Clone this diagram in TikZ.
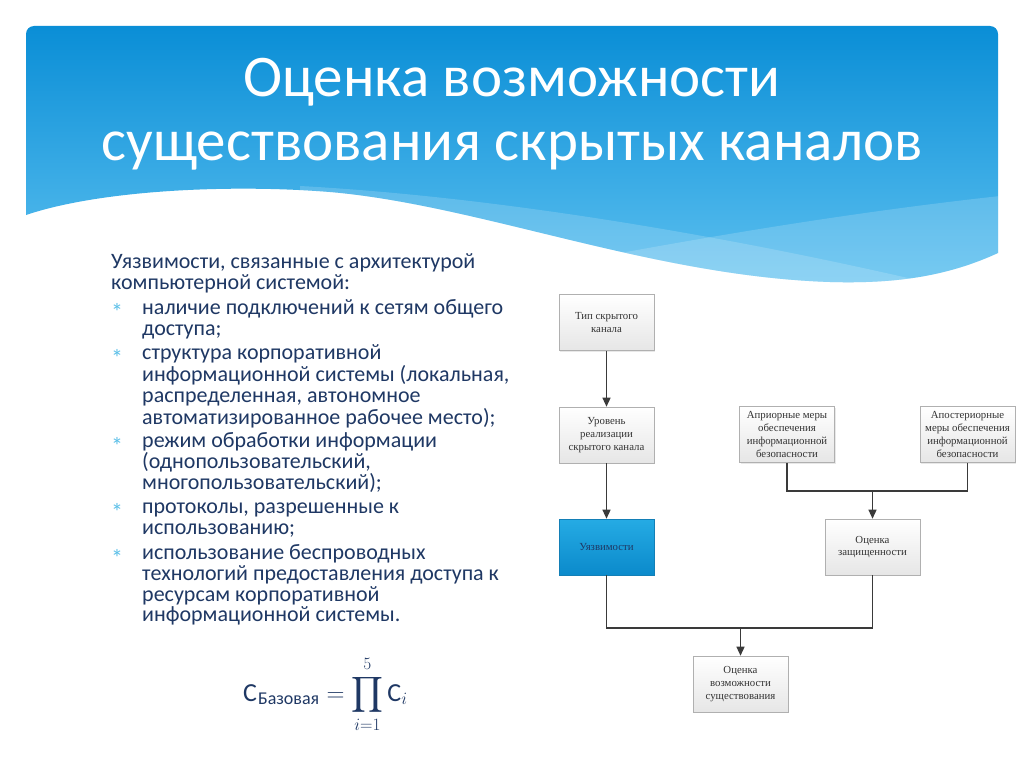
\documentclass[tikz,border=0pt]{standalone}
\usepackage{amsmath}
\usepackage{fontspec}
\setmainfont{Carlito}
\newfontfamily\boxfont{Liberation Serif}
\usetikzlibrary{arrows.meta,shadows}
\definecolor{hdtop}{HTML}{0A8ED6}
\definecolor{hdbot}{HTML}{5CC0F0}
\definecolor{navy}{HTML}{1F3864}
\definecolor{bul}{HTML}{5BBFE8}
\definecolor{conn}{HTML}{3A3A3A}
\definecolor{boxline}{HTML}{B0B0B0}
\definecolor{boxbot}{HTML}{E6E6E6}
\definecolor{vulntop}{HTML}{25ABE4}
\definecolor{vulnbot}{HTML}{0B8ACB}
\definecolor{vulnline}{HTML}{137FB6}
\begin{document}
\begin{tikzpicture}[x=1pt,y=-1pt,
  title/.style={anchor=base, text=white, inner sep=0, font=\fontsize{59}{62}\selectfont},
  body/.style={anchor=base west, text=navy, inner sep=0, font=\fontsize{22}{23}\selectfont},
  bullet/.style={text=bul, inner sep=0, font=\fontsize{24}{24}\selectfont},
  fbox/.style={draw=boxline, line width=0.6pt, top color=white, bottom color=boxbot,
    minimum width=95pt, minimum height=56pt, align=center, text=black!80, inner sep=1pt,
    font=\boxfont\fontsize{10.8}{12.8}\selectfont,
    drop shadow={opacity=0.18, shadow xshift=1.2pt, shadow yshift=-1.2pt}},
  vbox/.style={fbox, draw=vulnline, top color=vulntop, bottom color=vulnbot, text=navy},
  conn/.style={draw=conn, line width=1.3pt},
  arr/.style={conn, -{Triangle[length=9pt,width=8pt]}}]
\useasboundingbox (0,0) rectangle (1024,768);
\fill[white] (0,0) rectangle (1024,768);
% header
\def\hdpath{(26,215) -- (26,34) .. controls (26,29.6) and (29.6,26) .. (34,26) -- (990,26)
  .. controls (994.4,26) and (998,29.6) .. (998,34) -- (998,253)
  .. controls (950,275) and (900,284) .. (830,282)
  .. controls (650,276) and (480,205) .. (330,192)
  .. controls (230,184) and (100,190) .. (26,215) -- cycle}
\shade[top color=hdtop, bottom color=hdbot] \hdpath;
\begin{scope}
  \clip \hdpath;
  \fill[white, opacity=0.17] (300,186) .. controls (520,198) and (780,245) .. (1000,300) -- (1000,330) -- (300,330) -- cycle;
  \fill[white, opacity=0.17] (380,300) .. controls (600,255) and (800,218) .. (1000,196) -- (1000,330) -- (380,330) -- cycle;
\end{scope}
\node[title] (t1) at (512,96) {Оценка возможности};
\node[title] (t2) at (512,160) {существования скрытых каналов};
% body text
\node[body] (l1) at (111,268) {Уязвимости, связанные с архитектурой};
\node[body] (l2) at (111,289) {компьютерной системой:};
\node[body] (a1) at (142,314) {наличие подключений к сетям общего};
\node[body] (a2) at (142,335) {доступа;};
\node[body] (b1) at (142,359) {структура корпоративной};
\node[body] (b2) at (142,381) {информационной системы (локальная,};
\node[body] (b3) at (142,402) {распределенная, автономное};
\node[body] (b4) at (142,424) {автоматизированное рабочее место);};
\node[body] (c1) at (142,447) {режим обработки информации};
\node[body] (c2) at (142,468) {(однопользовательский,};
\node[body] (c3) at (142,489) {многопользовательский);};
\node[body] (d1) at (142,513) {протоколы, разрешенные к};
\node[body] (d2) at (142,534) {использованию;};
\node[body] (e1) at (142,559) {использование беспроводных};
\node[body] (e2) at (142,580) {технологий предоставления доступа к};
\node[body] (e3) at (142,601) {ресурсам корпоративной};
\node[body] (e4) at (142,621) {информационной системы.};
\node[bullet] (s1) at (117,312) {*};
\node[bullet] (s2) at (117,358) {*};
\node[bullet] (s3) at (117,446) {*};
\node[bullet] (s4) at (117,512) {*};
\node[bullet] (s5) at (117,558) {*};
% formula
\node[anchor=base west, text=navy, inner sep=0, font=\fontsize{26}{30}\selectfont] (f) at (243,701)
  {$\displaystyle \mbox{С}_{\mbox{\kern1pt\fontsize{18}{18}\selectfont Базовая}} = \prod_{i=1}^{5}\mbox{С}_{i}$};
% flowchart
\node[fbox] (tip) at (606.5,322.5) {Тип скрытого\\канала};
\node[fbox] (lvl) at (606.5,435) {Уровень\\реализации\\скрытого канала};
\node[vbox] (vuln) at (606.5,547) {Уязвимости};
\node[fbox] (apr) at (787,434.5) {Априорные меры\\обеспечения\\информационной\\безопасности};
\node[fbox] (apost) at (967.5,434.5) {Апостериорные\\меры обеспечения\\информационной\\безопасности};
\node[fbox] (prot) at (872.5,547) {Оценка\\защищенности};
\node[fbox] (poss) at (740.5,684) {Оценка\\возможности\\существования};
\coordinate (j1) at (872.5,491);
\coordinate (j2) at (740.5,628);
\draw[arr] (tip) -- (lvl);
\draw[arr] (lvl) -- (vuln);
\draw[conn] (apr.south) |- (j1) -| (apost.south);
\draw[arr] (j1) -- (prot.north);
\draw[conn] (vuln.south) |- (j2) -| (prot.south);
\draw[arr] (j2) -- (poss.north);
\end{tikzpicture}
\end{document}
